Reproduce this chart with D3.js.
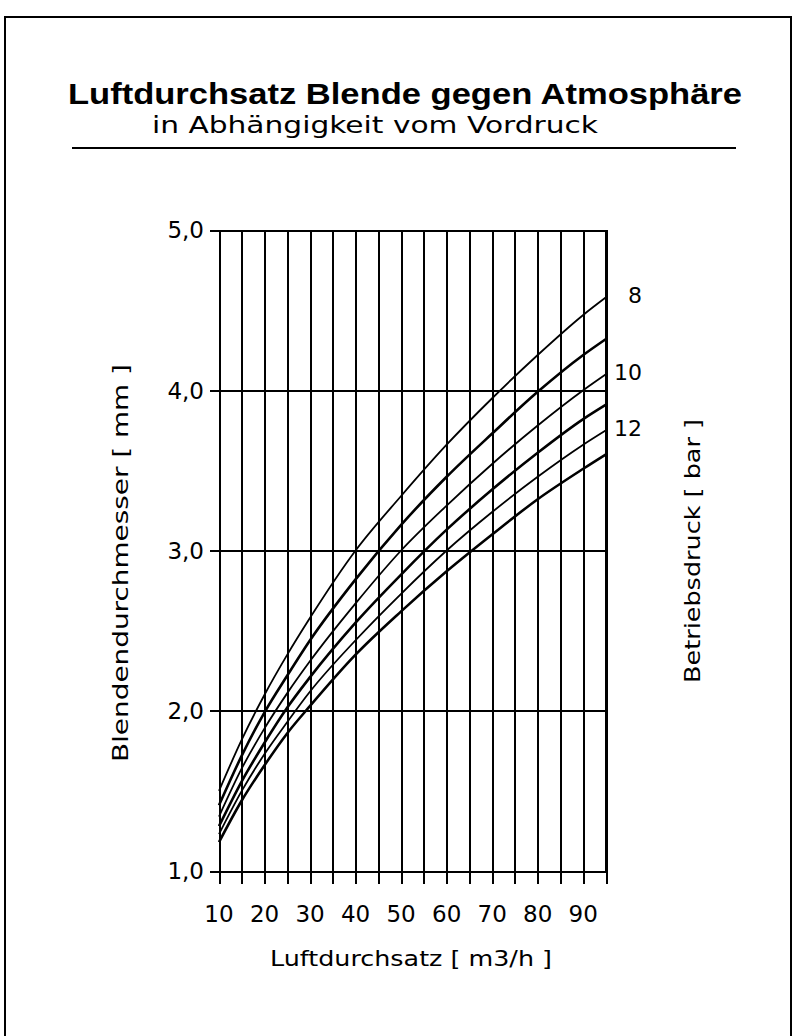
<!DOCTYPE html>
<html>
<head>
<meta charset="utf-8">
<script src="https://cdn.jsdelivr.net/npm/d3@7"></script>
<style>
  body { margin: 0; background: #fff; }
  text { font-family: "DejaVu Sans", sans-serif; fill: #000; }
  .grid line, .axis path, .axis line { stroke: #000; stroke-width: 2; shape-rendering: crispEdges; }
  .curve { fill: none; stroke: #000; }
</style>
</head>
<body>
<div id="chart"></div>
<script>
// values (Blendendurchmesser in mm)
var flow = [10, 15, 20, 25, 30, 40, 50, 60, 70, 80, 90, 95];
var bar8  = [1.50, 1.82, 2.10, 2.35, 2.58, 3.00, 3.34, 3.66, 3.95, 4.22, 4.47, 4.58];
var bar9  = [1.41, 1.72, 1.99, 2.22, 2.44, 2.82, 3.16, 3.46, 3.73, 3.99, 4.22, 4.32];
var bar10 = [1.34, 1.64, 1.89, 2.11, 2.31, 2.67, 3.00, 3.28, 3.54, 3.78, 4.00, 4.10];
var bar11 = [1.28, 1.56, 1.80, 2.02, 2.21, 2.55, 2.85, 3.13, 3.38, 3.61, 3.82, 3.91];
var bar12 = [1.23, 1.50, 1.73, 1.93, 2.12, 2.44, 2.73, 3.00, 3.24, 3.46, 3.66, 3.75];
var bar13 = [1.18, 1.44, 1.66, 1.86, 2.03, 2.35, 2.62, 2.87, 3.10, 3.32, 3.51, 3.60];

var pressures = [8, 9, 10, 11, 12, 13];
var curveLabels = ["8", "", "10", "", "12", ""];
var xTicks = [10, 20, 30, 40, 50, 60, 70, 80, 90];
var xGrid = d3.range(10, 96, 5);
var yTicks = [1, 2, 3, 4, 5];

(function() {
  var width = 796, height = 1036;

  var svg = d3.select("#chart")
    .append("svg")
    .attr("width", width)
    .attr("height", height);

  // frame
  svg.append("rect")
    .attr("x", 5).attr("y", 17)
    .attr("width", 786).attr("height", 1040)
    .attr("fill", "none")
    .attr("stroke", "#000")
    .attr("stroke-width", 2);

  // title block (old bitmap font is wide, so stretch to its width)
  svg.append("text")
    .attr("x", 68).attr("y", 104)
    .attr("textLength", 674)
    .attr("lengthAdjust", "spacingAndGlyphs")
    .style("font-family", "'Liberation Sans', Arial, sans-serif")
    .style("font-size", "30px")
    .style("font-weight", "bold")
    .text("Luftdurchsatz Blende gegen Atmosphäre");

  svg.append("text")
    .attr("x", 152).attr("y", 133)
    .attr("textLength", 446)
    .attr("lengthAdjust", "spacingAndGlyphs")
    .style("font-size", "23px")
    .text("in Abhängigkeit vom Vordruck");

  svg.append("line")
    .attr("x1", 72).attr("x2", 736)
    .attr("y1", 148).attr("y2", 148)
    .attr("stroke", "#000")
    .attr("stroke-width", 2);

  var x = d3.scaleLinear().domain([10, 95]).range([219, 606]);
  var y = d3.scaleLinear().domain([1, 5]).range([871, 230]);

  // vertical grid, running down past the 1,0 line as ticks
  svg.append("g")
    .attr("class", "grid")
    .attr("transform", "translate(0," + y(5) + ")")
    .call(d3.axisBottom(x)
      .tickValues(xGrid)
      .tickSize(y(1) - y(5) + 13)
      .tickFormat(""))
    .call(function(g) { g.select(".domain").remove(); });

  // horizontal grid, sticking out a little on the left
  svg.append("g")
    .attr("class", "grid")
    .attr("transform", "translate(" + x(95) + ",0)")
    .call(d3.axisLeft(y)
      .tickValues(yTicks)
      .tickSize(x(95) - x(10) + 9)
      .tickFormat(""))
    .call(function(g) { g.select(".domain").remove(); });

  // right border of plot
  svg.append("line")
    .attr("x1", x(95)).attr("x2", x(95))
    .attr("y1", y(5)).attr("y2", y(1))
    .attr("stroke", "#000").attr("stroke-width", 2)
    .style("shape-rendering", "crispEdges");

  // tick labels
  svg.append("g")
    .selectAll("text")
    .data(yTicks)
    .enter().append("text")
    .attr("x", 204)
    .attr("y", function(d) { return y(d); })
    .attr("dy", "0.36em")
    .attr("text-anchor", "end")
    .style("font-size", "23px")
    .text(function(d) { return d3.format(".1f")(d).replace(".", ","); });

  svg.append("g")
    .selectAll("text")
    .data(xTicks)
    .enter().append("text")
    .attr("x", function(d) { return x(d); })
    .attr("y", 922)
    .attr("text-anchor", "middle")
    .style("font-size", "23px")
    .text(function(d) { return d; });

  // axis titles
  svg.append("text")
    .attr("x", 270).attr("y", 966)
    .attr("textLength", 282)
    .attr("lengthAdjust", "spacingAndGlyphs")
    .style("font-size", "22px")
    .text("Luftdurchsatz [ m3/h ]");

  svg.append("text")
    .attr("transform", "translate(128,762) rotate(-90)")
    .attr("textLength", 398)
    .attr("lengthAdjust", "spacingAndGlyphs")
    .style("font-size", "22px")
    .text("Blendendurchmesser [ mm ]");

  svg.append("text")
    .attr("transform", "translate(700,683) rotate(-90)")
    .attr("textLength", 264)
    .attr("lengthAdjust", "spacingAndGlyphs")
    .style("font-size", "22px")
    .text("Betriebsdruck [ bar ]");

  // curves
  var series = [bar8, bar9, bar10, bar11, bar12, bar13];

  var line = d3.line()
    .x(function(d, i) { return x(flow[i]); })
    .y(function(d) { return y(d); })
    .curve(d3.curveMonotoneX);

  svg.selectAll(".curve")
    .data(series)
    .enter().append("path")
    .attr("class", "curve")
    .attr("stroke-width", function(d, i) { return i % 2 == 0 ? 1.8 : 2.6; })
    .attr("d", line);

  // pressure labels at the right end of the curves
  svg.append("g")
    .selectAll("text")
    .data(series)
    .enter().append("text")
    .attr("x", 642)
    .attr("y", function(d, i) { return y(d[d.length - 1]) - 2; })
    .attr("dy", "0.36em")
    .attr("text-anchor", "end")
    .style("font-size", "22px")
    .text(function(d, i) { return curveLabels[i]; });
})();
</script>
</body>
</html>
